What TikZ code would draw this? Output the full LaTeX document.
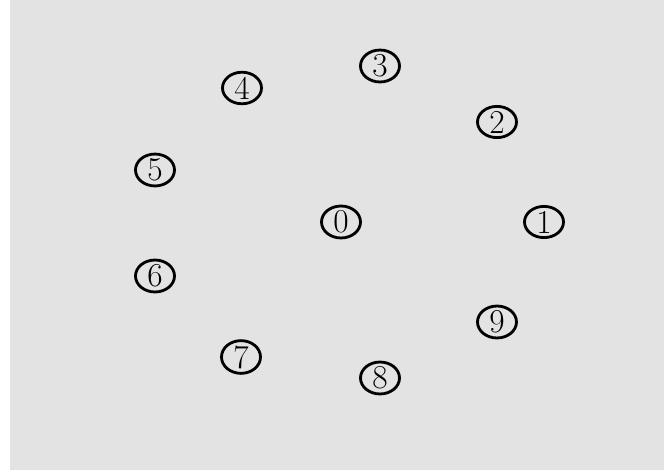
\documentclass[tikz,border=0pt]{standalone}
\usepackage{tikz}
\usetikzlibrary{shapes.geometric}
\definecolor{panelgray}{HTML}{E3E3E3}
\tikzset{numnode/.style={draw,ellipse,line width=1.6pt,inner sep=0pt,minimum width=0.78cm,minimum height=0.62cm,font=\fontsize{19}{23}\selectfont}}

\begin{document}
\begin{tikzpicture}[x=0.02cm,y=-0.02cm]
  \useasboundingbox (0,0) rectangle (670,470);
  \fill[panelgray] (10,0) rectangle (664,470);
  \foreach \n/\px/\py in {0/341/222,1/544/222,2/497/122,3/380/66,4/242/88,5/155/170,6/155/276,7/241/357,8/380/378,9/497/322}{\node[numnode] (n\n) at (\px,\py) {\n};}
\end{tikzpicture}
\end{document}
